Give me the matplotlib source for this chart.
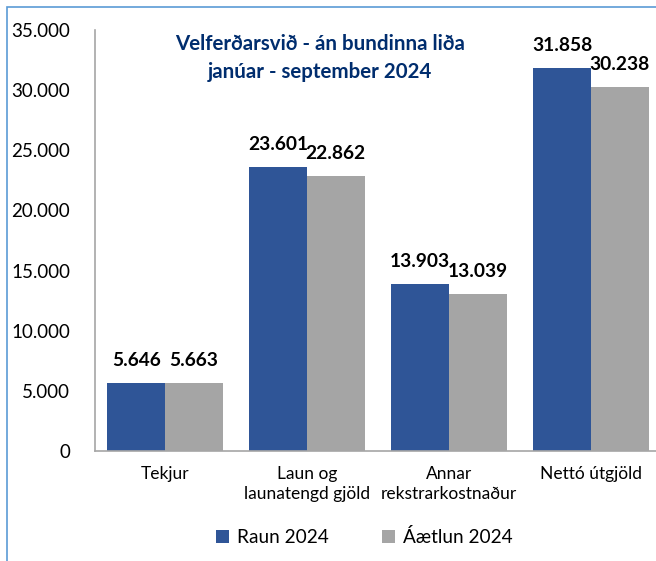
import matplotlib
matplotlib.use("Agg")
import matplotlib.pyplot as plt
import numpy as np
from matplotlib.patches import Rectangle

categories = ["Tekjur", "Laun og\nlaunatengd gjöld", "Annar\nrekstrarkostnaður", "Nettó útgjöld"]
raun = [5646, 23601, 13903, 31858]
aetlun = [5663, 22862, 13039, 30238]
series_names = ["Raun 2024", "Áætlun 2024"]
yticks = [0, 5000, 10000, 15000, 20000, 25000, 30000, 35000]
ytick_labels = ["0", "5.000", "10.000", "15.000", "20.000", "25.000", "30.000", "35.000"]

plt.rcParams['font.family'] = ['Lato', 'DejaVu Sans']

W, H = 656, 561
fig = plt.figure(figsize=(W/100, H/100), dpi=100)
fig.patches.append(Rectangle((7/W, -0.1), 1.2, 1 - 7/H + 0.1, transform=fig.transFigure,
                             fill=False, edgecolor="#5B9BD5", linewidth=1.2))

ax = fig.add_axes([95/W, 1 - 451/H, (662-95)/W, (451-30)/H])
x = np.arange(len(categories))
bw = 0.405
blue = "#2F5597"
gray = "#A5A5A5"
b1 = ax.bar(x - bw/2, raun, bw, color=blue, label=series_names[0])
b2 = ax.bar(x + bw/2, aetlun, bw, color=gray, label=series_names[1])

def fmt(v):
    return f"{v:,}".replace(",", ".")

for bars, vals in ((b1, raun), (b2, aetlun)):
    for r, v in zip(bars, vals):
        ax.annotate(fmt(v), (r.get_x() + r.get_width()/2, v), xytext=(0, 10),
                    textcoords="offset points", ha="center", va="bottom",
                    fontsize=13.8, fontweight="bold", color="black")

ax.set_xlim(-0.493, 3.5)
ax.set_ylim(0, 35000)
ax.set_yticks(yticks)
ax.set_yticklabels(ytick_labels, fontsize=13.5)
ax.set_xticks(x)
ax.set_xticklabels(categories, fontsize=12.5, linespacing=1.3)
ax.tick_params(axis="y", length=0, pad=18)
ax.tick_params(axis="x", length=0, pad=11)
for s in ("top", "right"):
    ax.spines[s].set_visible(False)
for s in ("left", "bottom"):
    ax.spines[s].set_color("#A6A6A6")
    ax.spines[s].set_linewidth(1.2)

ax.text(320/W, 1 - 58.5/H, "Velferðarsvið - án bundinna liða\njanúar - september 2024",
        transform=fig.transFigure, ha="center", va="center", fontsize=14.8,
        fontweight="bold", color="#002D6E", linespacing=1.5)

fig.legend(handles=[b1, b2], labels=series_names, loc="center", bbox_to_anchor=(364/W, 1 - 537/H),
           ncol=2, frameon=False, fontsize=13.7, handlelength=0.7, handleheight=0.7,
           handletextpad=0.4, columnspacing=2.8)

fig.savefig("out.png", dpi=100)
